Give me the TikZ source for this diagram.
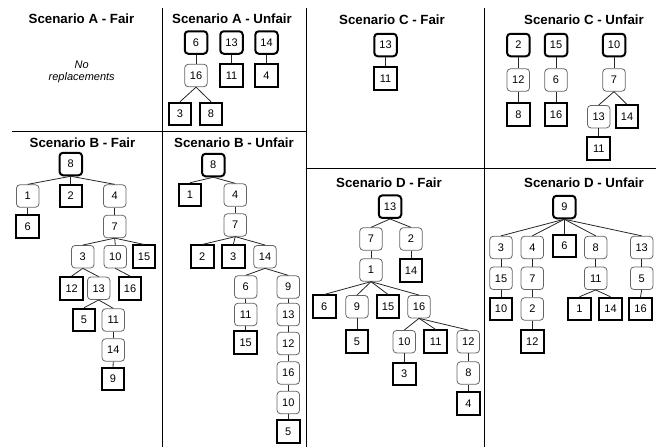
\documentclass[tikz,border=0pt]{standalone}
\usepackage{fontspec}
\setmainfont{Liberation Sans}
\begin{document}
\begin{tikzpicture}[x=1pt,y=-1pt]
\tikzset{
 nd/.style={minimum width=22.5pt, minimum height=22.5pt, inner sep=0pt, font=\fontsize{11}{13}\selectfont},
 rootn/.style={nd, draw=black, line width=2pt, rounded corners=3.5pt},
 midn/.style={nd, draw=black!60, line width=0.8pt, rounded corners=3.5pt},
 leafn/.style={nd, draw=black, line width=2pt},
 conn/.style={draw=black!85, line width=0.8pt},
 sepline/.style={draw=black, line width=0.9pt},
 ttl/.style={font=\fontsize{13.3}{15}\selectfont\bfseries}
}
\useasboundingbox (0,0) rectangle (660,447);
% separators
\draw[sepline] (162,8) -- (162,447);
\draw[sepline] (306,8) -- (306,447);
\draw[sepline] (484,8) -- (484,447);
\draw[sepline] (12,131.5) -- (306,131.5);
\draw[sepline] (306,168.5) -- (656,168.5);
% titles
\node[ttl] (taf) at (81.5,19) {Scenario A - Fair};
\node[ttl] (tau) at (232,19) {Scenario A - Unfair};
\node[ttl] (tcf) at (392,20) {Scenario C - Fair};
\node[ttl] (tcu) at (584,20) {Scenario C - Unfair};
\node[ttl] (tbf) at (82.5,143) {Scenario B - Fair};
\node[ttl] (tbu) at (234,143) {Scenario B - Unfair};
\node[ttl] (tdf) at (389,183) {Scenario D - Fair};
\node[ttl] (tdu) at (584,183) {Scenario D - Unfair};
\node[font=\fontsize{11}{12}\selectfont\itshape, align=center] (norep) at (81.7,72) {No\\replacements};
% A Unfair
\node[rootn] (au6) at (196,42.5) {6};
\node[rootn] (au13) at (231.5,42.5) {13};
\node[rootn] (au14) at (266.5,42.5) {14};
\node[midn] (au16) at (196,75.5) {16};
\node[leafn] (au11) at (231.5,75.5) {11};
\node[leafn] (au4) at (266.5,75.5) {4};
\node[leafn] (au3) at (180,114) {3};
\node[leafn] (au8) at (211,114) {8};
\foreach \a/\b in {au6/au16, au13/au11, au14/au4, au16/au3, au16/au8}
  \draw[conn] (\a.south) -- (\b.north);
% C Fair
\node[rootn] (cf13) at (385.5,45) {13};
\node[leafn] (cf11) at (385.5,78.5) {11};
\draw[conn] (cf13.south) -- (cf11.north);
% C Unfair
\node[rootn] (cu2) at (518.3,45) {2};
\node[midn] (cu12) at (518.3,80) {12};
\node[leafn] (cu8) at (518.3,114.5) {8};
\node[rootn] (cu15) at (556,45) {15};
\node[midn] (cu6) at (556,80) {6};
\node[leafn] (cu16) at (556,114.5) {16};
\node[rootn] (cu10) at (614,45) {10};
\node[midn] (cu7) at (614,80) {7};
\node[midn] (cu13) at (598.7,116.7) {13};
\node[leafn] (cu14) at (627,116.7) {14};
\node[leafn] (cu11) at (598.7,148.3) {11};
\foreach \a/\b in {cu2/cu12, cu12/cu8, cu15/cu6, cu6/cu16, cu10/cu7, cu7/cu13, cu7/cu14, cu13/cu11}
  \draw[conn] (\a.south) -- (\b.north);
% B Fair
\node[rootn] (bf8) at (70.8,164) {8};
\node[midn] (bf1) at (27.7,196) {1};
\node[leafn] (bf2) at (70.8,196) {2};
\node[midn] (bf4) at (114.7,196) {4};
\node[leafn] (bf6) at (27.7,226.5) {6};
\node[midn] (bf7) at (114.7,226.5) {7};
\node[midn] (bf3) at (82.8,256.7) {3};
\node[midn] (bf10) at (115.3,256.7) {10};
\node[leafn] (bf15) at (144,256.7) {15};
\node[leafn] (bf12) at (71.7,288.3) {12};
\node[midn] (bf13) at (98.7,288.3) {13};
\node[leafn] (bf16) at (130,288.3) {16};
\node[leafn] (bf5) at (84,320) {5};
\node[midn] (bf11) at (113.3,320) {11};
\node[midn] (bf14) at (113.3,350) {14};
\node[leafn] (bf9) at (113,379) {9};
\foreach \a/\b in {bf8/bf1, bf8/bf2, bf8/bf4, bf1/bf6, bf4/bf7, bf7/bf3, bf7/bf10, bf7/bf15, bf3/bf12, bf3/bf13, bf10/bf16, bf13/bf5, bf13/bf11, bf11/bf14, bf14/bf9}
  \draw[conn] (\a.south) -- (\b.north);
% B Unfair
\node[rootn] (bu8) at (213.3,165) {8};
\node[leafn] (bu1) at (190,195) {1};
\node[midn] (bu4) at (235.3,195) {4};
\node[midn] (bu7) at (235.3,225) {7};
\node[leafn] (bu2) at (202.3,256.7) {2};
\node[leafn] (bu3) at (233.3,256.7) {3};
\node[midn] (bu14) at (265,256.7) {14};
\node[midn] (bu6) at (245.7,287) {6};
\node[midn] (bu9) at (288.3,287) {9};
\node[midn] (bu11) at (245.7,314.5) {11};
\node[midn] (bu13) at (288.3,314.5) {13};
\node[leafn] (bu15) at (245.7,342.5) {15};
\node[midn] (bu12) at (288.3,343.5) {12};
\node[midn] (bu16) at (288.3,373) {16};
\node[midn] (bu10) at (288.3,402.5) {10};
\node[leafn] (bu5) at (288.3,431.5) {5};
\foreach \a/\b in {bu8/bu1, bu8/bu4, bu4/bu7, bu7/bu2, bu7/bu3, bu7/bu14, bu14/bu6, bu14/bu9, bu6/bu11, bu11/bu15, bu9/bu13, bu13/bu12, bu12/bu16, bu16/bu10, bu10/bu5}
  \draw[conn] (\a.south) -- (\b.north);
% D Fair
\node[rootn] (df13) at (390,206.7) {13};
\node[midn] (df7) at (371,239) {7};
\node[midn] (df2) at (411,239) {2};
\node[midn] (df1) at (371,270) {1};
\node[leafn] (df14) at (411,270.5) {14};
\node[leafn] (df6) at (324.3,306.7) {6};
\node[midn] (df9) at (357,306.7) {9};
\node[leafn] (df15) at (388,306.7) {15};
\node[midn] (df16) at (419,306.7) {16};
\node[leafn] (df5) at (357,341.7) {5};
\node[midn] (df10) at (404.3,341.7) {10};
\node[leafn] (df11) at (435.7,341.7) {11};
\node[midn] (df12) at (468.3,341.7) {12};
\node[leafn] (df3) at (404.3,374) {3};
\node[midn] (df8) at (468.3,373) {8};
\node[leafn] (df4) at (468.3,403.3) {4};
\foreach \a/\b in {df13/df7, df13/df2, df7/df1, df2/df14, df1/df6, df1/df9, df1/df15, df1/df16, df9/df5, df16/df10, df16/df11, df16/df12, df10/df3, df12/df8, df8/df4}
  \draw[conn] (\a.south) -- (\b.north);
% D Unfair
\node[rootn] (du9) at (564.3,207) {9};
\node[midn] (du3) at (501,247.5) {3};
\node[midn] (du4) at (532.3,247.5) {4};
\node[leafn] (du6) at (564.3,246) {6};
\node[midn] (du8) at (595.7,247.5) {8};
\node[midn] (du13) at (641.7,247.5) {13};
\node[midn] (du15) at (501,278.3) {15};
\node[midn] (du7) at (532.3,278.3) {7};
\node[midn] (du11) at (595.7,278.3) {11};
\node[midn] (du5) at (641.7,278.3) {5};
\node[leafn] (du10) at (501,309) {10};
\node[midn] (du2) at (532.3,309) {2};
\node[leafn] (du1) at (579.5,309) {1};
\node[leafn] (du14) at (610.5,309) {14};
\node[leafn] (du16) at (640.5,309) {16};
\node[leafn] (du12) at (532.3,341.7) {12};
\foreach \a/\b in {du9/du3, du9/du4, du9/du6, du9/du8, du9/du13, du3/du15, du4/du7, du8/du11, du13/du5, du15/du10, du7/du2, du11/du1, du11/du14, du5/du16, du2/du12}
  \draw[conn] (\a.south) -- (\b.north);
\end{tikzpicture}
\end{document}
